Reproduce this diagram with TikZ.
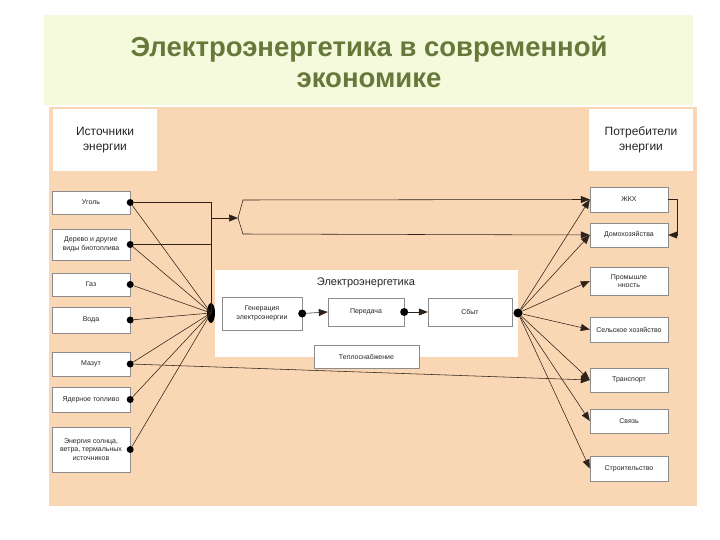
\documentclass[tikz,border=0pt]{standalone}
\usepackage{fontspec}
\setmainfont{Liberation Sans}
\usetikzlibrary{arrows.meta,calc,positioning,shapes.geometric}

\definecolor{titlebg}{HTML}{F6FADC}
\definecolor{peach}{HTML}{F9D6B4}
\definecolor{titlegreen}{HTML}{66783A}
\definecolor{wire}{HTML}{2E2119}

\begin{document}
\begin{tikzpicture}[x=1pt,y=-1pt,
    every node/.style={font=\fontsize{7}{8.5}\selectfont, align=center, text=black!85},
    box/.style={draw=black!45, fill=white, line width=.4pt, inner sep=1pt, minimum width=78pt},
    head/.style={fill=white, font=\fontsize{12}{14.5}\selectfont, minimum width=104pt, minimum height=62pt},
    dot/.style={circle, fill=black, inner sep=0pt, minimum size=7pt},
    link/.style={draw=wire, line width=.55pt},
    arr/.style={link, -{Triangle[length=9pt,width=7pt]}}
]
    % background
    \useasboundingbox (0,0) rectangle (720,540);
    \fill[titlebg] (44,15) rectangle (693,105);
    \fill[peach] (49,107) rectangle (697,506);
    \node[font=\bfseries\fontsize{27.5}{31}\selectfont, text=titlegreen] (title) at (369,62)
        {Электроэнергетика в современной\\экономике};

    % headers
    \node[head] (hsrc) at (105,140) {Источники\\энергии};
    \node[head] (hcons) at (641,140) {Потребители\\энергии};

    % sources
    \node[box, minimum height=23pt] (coal) at (91,202.5) {Уголь};
    \node[box, minimum height=31pt] (wood) at (91,244.5) {Дерево и другие\\виды биотоплива};
    \node[box, minimum height=23pt] (gas) at (91,284.5) {Газ};
    \node[box, minimum height=26pt] (water) at (91,320) {Вода};
    \node[box, minimum height=24pt] (mazut) at (91,364) {Мазут};
    \node[box, minimum height=25pt] (nuclear) at (91,399.5) {Ядерное топливо};
    \node[box, minimum height=45pt] (sun) at (91,449.5) {Энергия солнца,\\ветра, термальных\\источников};

    % consumers
    \node[box, minimum height=25pt] (zhkh) at (629,199.5) {ЖКХ};
    \node[box, minimum height=24pt] (home) at (629,235) {Домохозяйства};
    \node[box, minimum height=28pt] (industry) at (629,281) {Промышле\\нность};
    \node[box, minimum height=25pt] (agri) at (629,329.5) {Сельское хозяйство};
    \node[box, minimum height=24pt] (transport) at (629,380) {Транспорт};
    \node[box, minimum height=24pt] (comm) at (629,421) {Связь};
    \node[box, minimum height=25pt] (build) at (629,468.5) {Строительство};

    % power industry block
    \node[fill=white, minimum width=303pt, minimum height=87pt] (power) at (366.5,313.5) {};
    \node[font=\fontsize{11}{13}\selectfont] (ptitle) at (366,283) {Электроэнергетика};
    \node[box, minimum width=80pt, minimum height=33pt] (gen) at (262,313.5) {Генерация\\электроэнергии};
    \node[box, minimum width=76pt, minimum height=28pt] (trans) at (366,312) {Передача};
    \node[box, minimum width=84pt, minimum height=28pt] (sales) at (470,312) {Сбыт};
    \node[box, minimum width=105pt, minimum height=23pt] (heat) at (366.5,356.5) {Теплоснабжение};

    \node[dot, minimum size=8pt] (dgen) at (gen.east) {};
    \node[dot, minimum size=8pt] (dtrans) at (trans.east) {};
    \draw[arr] (dgen) -- (trans.west);
    \draw[arr] (dtrans) -- (sales.west);

    % hubs
    \node[ellipse, fill=black, inner sep=0pt, minimum width=8pt, minimum height=20pt] (lhub) at (211,313) {};
    \node[dot, minimum size=9pt] (rhub) at (518,313) {};

    % sources -> hub
    \foreach \s in {coal,wood,gas,water,mazut,nuclear,sun}{
        \node[dot] (d\s) at (\s.east) {};
        \draw[link] (d\s) -- (lhub.center);
    }

    % direct supply to ZhKKh and households
    \coordinate (fork) at (238,218);
    \draw[link] (dcoal) -- (dcoal -| lhub) -- (lhub.center);
    \draw[link] (dwood) -- (dwood -| lhub);
    \draw[arr] (lhub |- fork) -- (fork);
    \draw[arr] (fork) -- (243,200) -- (zhkh.west);
    \draw[arr] (fork) -- (243,234) -- (home.west);
    \draw[arr] (zhkh.east) -- ++(9,0) |- (home.east);

    % fuel oil to transport
    \draw[arr] (dmazut) -- (transport.west);

    % hub -> consumers
    \foreach \c in {zhkh,home,industry,agri,transport,comm,build}
        \draw[arr] (rhub) -- (\c.west);

\end{tikzpicture}
\end{document}
